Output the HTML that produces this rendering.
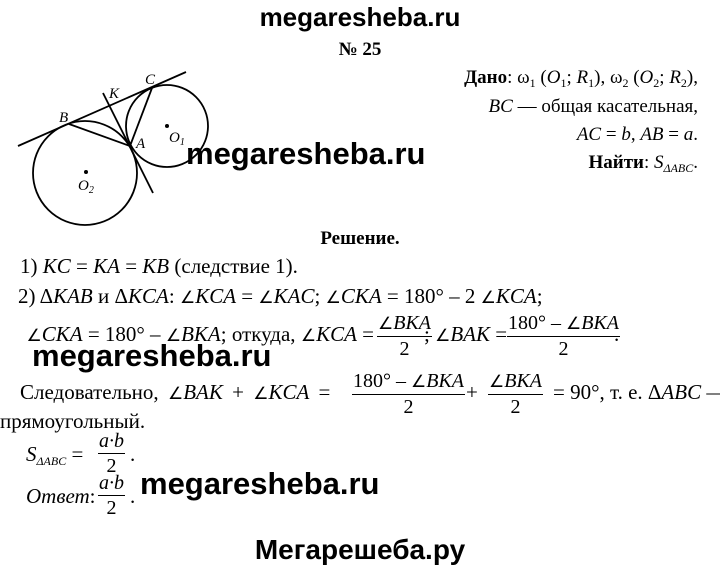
<!DOCTYPE html>
<html><head><meta charset="utf-8"><style>
body{margin:0;width:720px;height:570px;background:#fff;position:relative;overflow:hidden;font-family:"Liberation Serif",serif;color:#000}
.a{position:absolute;white-space:nowrap;font-size:21px;line-height:22px}
.g{position:absolute;white-space:nowrap;font-size:19px;line-height:20px}
.wm{position:absolute;font-family:"Liberation Sans",sans-serif;font-weight:bold;white-space:nowrap}
i{font-style:italic}
.an{font-size:17px}
.fr{position:absolute;text-align:center;font-size:20px;line-height:20px}
.fr .n{border-bottom:1.5px solid #000;padding:0 1px 2px}
.fr .d{padding-top:2px}
sub{font-size:12px;vertical-align:-4px}
</style></head><body>
<div class="wm" style="left:0;width:720px;text-align:center;top:2px;font-size:26px">megaresheba.ru</div>
<div class="g" style="left:0;width:720px;text-align:center;top:40px;font-weight:bold">№ 25</div>

<svg style="position:absolute;left:0;top:0" width="260" height="240">
<g fill="none" stroke="#000" stroke-width="1.8">
<circle cx="85" cy="173" r="52"/>
<circle cx="167" cy="126" r="41"/>
<line x1="18" y1="146" x2="186" y2="72"/>
<line x1="103" y1="93" x2="153" y2="193"/>
<line x1="69" y1="124" x2="130" y2="146"/>
<line x1="152" y1="88" x2="130" y2="146"/>
</g>
<circle cx="167" cy="126" r="2" fill="#000"/>
<circle cx="86" cy="172" r="2" fill="#000"/>
<g font-family="Liberation Serif" font-style="italic" font-size="15">
<text x="59" y="122">B</text><text x="145" y="84">C</text><text x="109" y="98">K</text>
<text x="136" y="148">A</text><text x="169" y="142">O<tspan font-size="10" dy="3">1</tspan></text>
<text x="78" y="190">O<tspan font-size="10" dy="3">2</tspan></text>
</g>
</svg>

<div class="g" style="right:22px;top:68px"><b>Дано</b>: ω<sub>1</sub> (<i>O</i><sub>1</sub>; <i>R</i><sub>1</sub>), ω<sub>2</sub> (<i>O</i><sub>2</sub>; <i>R</i><sub>2</sub>),</div>
<div class="g" style="right:22px;top:97px"><i>BC</i> — общая касательная,</div>
<div class="g" style="right:22px;top:125px"><i>AC</i> = <i>b</i>, <i>AB</i> = <i>a</i>.</div>
<div class="g" style="right:22px;top:153px"><b>Найти</b>: <i>S</i><sub><i>ΔABC</i></sub>.</div>
<div class="wm" style="left:186px;top:136px;font-size:31px">megaresheba.ru</div>

<div class="g" style="left:0;width:720px;text-align:center;top:229px;font-weight:bold">Решение.</div>
<div class="a" style="left:20px;top:255px">1) <i>KC</i> = <i>KA</i> = <i>KB</i> (следствие 1).</div>
<div class="a" style="left:18px;top:285px">2) Δ<i>KAB</i> и Δ<i>KCA</i>: <span class="an">∠</span><i>KCA</i> = <span class="an">∠</span><i>KAC</i>; <span class="an">∠</span><i>CKA</i> = 180° – 2 <span class="an">∠</span><i>KCA</i>;</div>
<div class="a" style="right:346px;top:323px"><span class="an">∠</span><i>CKA</i> = 180° – <span class="an">∠</span><i>BKA</i>; откуда, <span class="an">∠</span><i>KCA</i> =</div>
<div class="fr" style="left:377px;top:313px"><div class="n"><span class="an">∠</span><i>BKA</i></div><div class="d">2</div></div>
<div class="a" style="left:424px;top:323px">; <span class="an">∠</span><i>BAK</i> =</div>
<div class="fr" style="left:507px;top:313px"><div class="n">180° – <span class="an">∠</span><i>BKA</i></div><div class="d">2</div></div>
<div class="a" style="left:614px;top:323px">.</div>
<div class="wm" style="left:32px;top:338px;font-size:31px">megaresheba.ru</div>

<div class="a" style="left:20px;top:381px;word-spacing:4px">Следовательно, <span class="an">∠</span><i>BAK</i> + <span class="an">∠</span><i>KCA</i> =</div>
<div class="fr" style="left:352px;top:371px"><div class="n">180° – <span class="an">∠</span><i>BKA</i></div><div class="d">2</div></div>
<div class="a" style="left:466px;top:381px">+</div>
<div class="fr" style="left:488px;top:371px"><div class="n"><span class="an">∠</span><i>BKA</i></div><div class="d">2</div></div>
<div class="a" style="left:553px;top:381px">= 90°, т. е. Δ<i>ABC</i> —</div>
<div class="a" style="left:0;top:410px">прямоугольный.</div>

<div class="a" style="left:26px;top:443px"><i>S</i><sub><i>ΔABC</i></sub> =</div>
<div class="fr" style="left:98px;top:431px"><div class="n"><i>a·b</i></div><div class="d">2</div></div>
<div class="a" style="left:130px;top:443px">.</div>
<div class="a" style="left:26px;top:485px"><i>Ответ</i>:</div>
<div class="fr" style="left:98px;top:473px"><div class="n"><i>a·b</i></div><div class="d">2</div></div>
<div class="a" style="left:130px;top:485px">.</div>
<div class="wm" style="left:140px;top:466px;font-size:31px">megaresheba.ru</div>

<div class="wm" style="left:0;width:720px;text-align:center;top:534px;font-size:28px">Мегарешеба.ру</div>
</body></html>
